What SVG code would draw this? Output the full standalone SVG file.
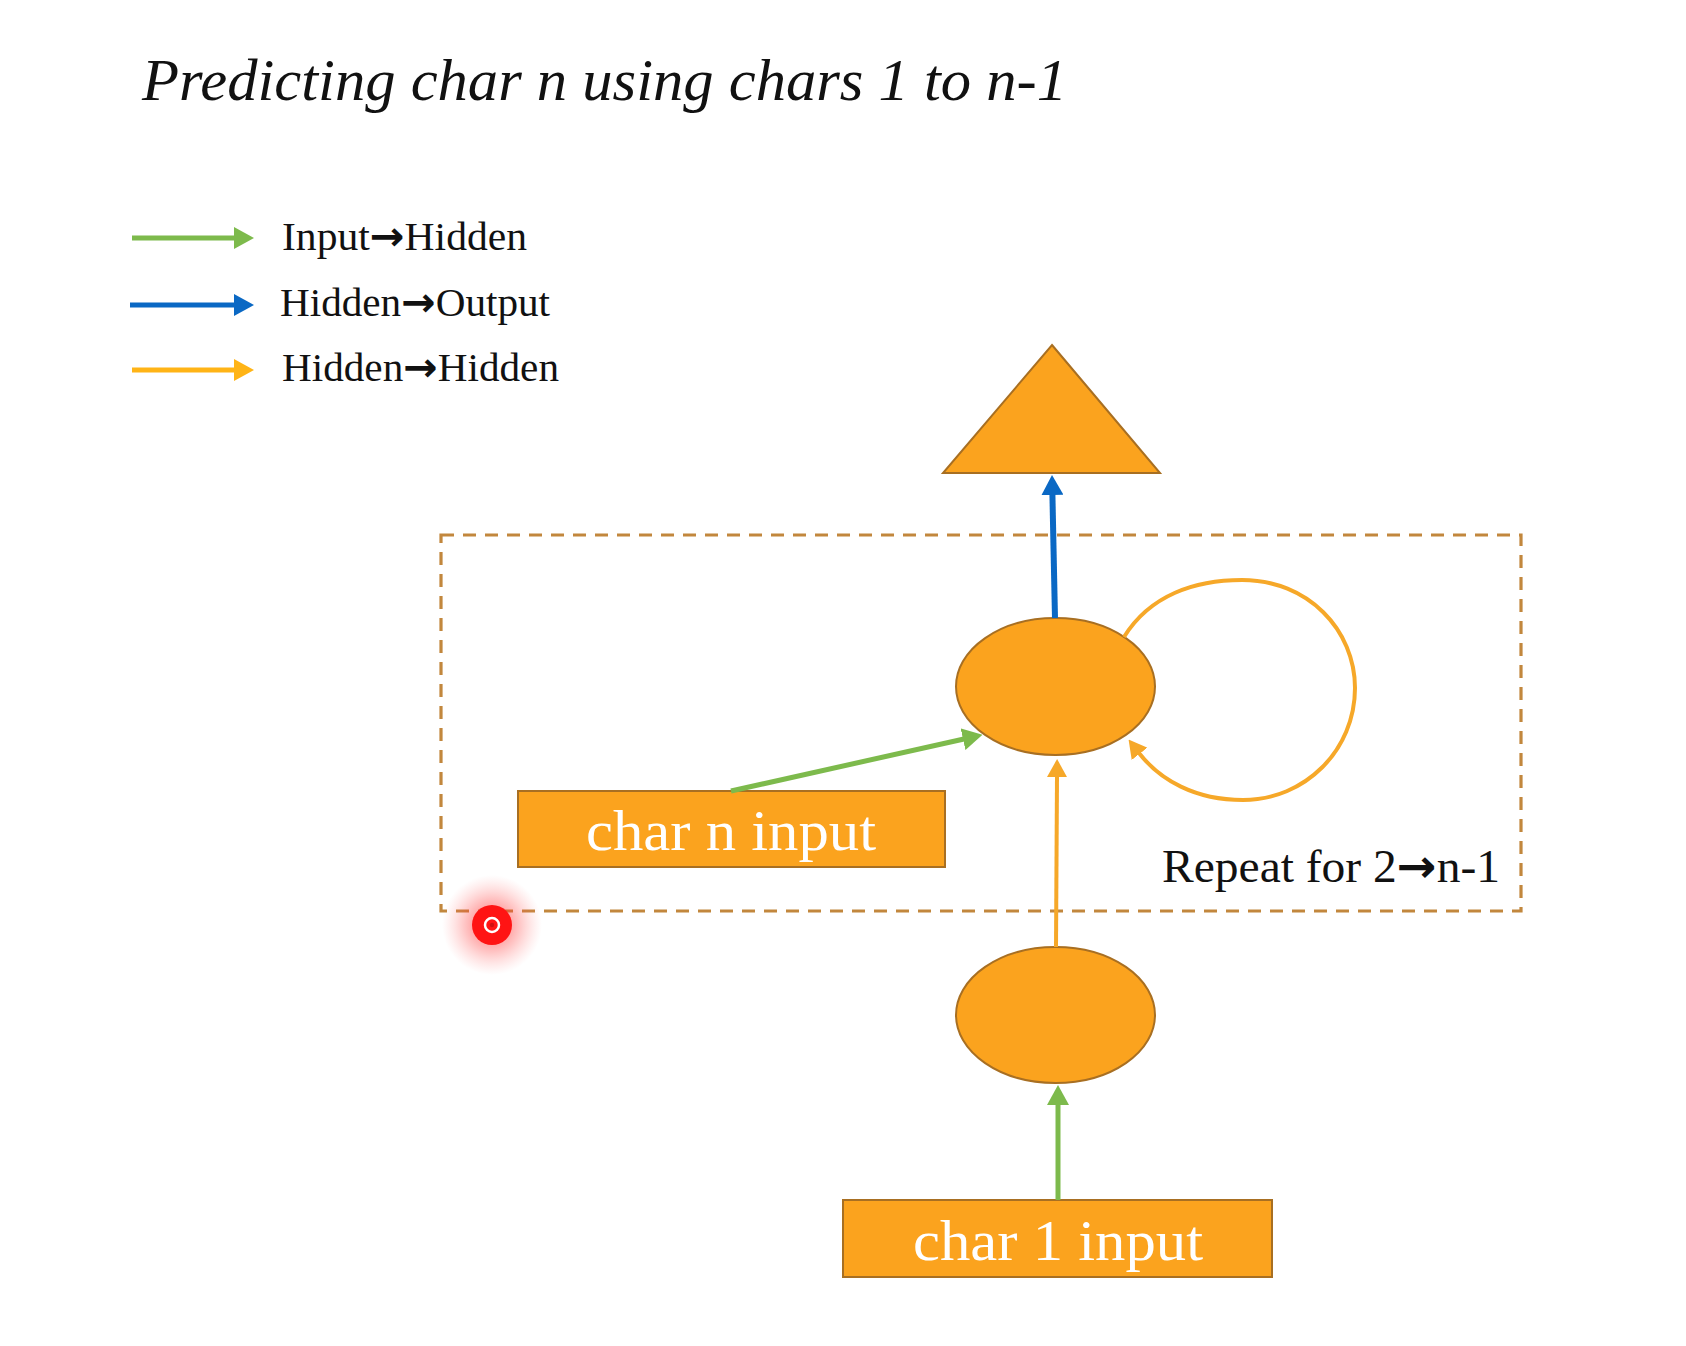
<svg xmlns="http://www.w3.org/2000/svg" width="1686" height="1346" viewBox="0 0 1686 1346">
  <style>
    .serif { font-family: "Liberation Serif", "Times New Roman", serif; }
    .arr { font-family: "DejaVu Sans", "Liberation Sans", sans-serif; font-weight: bold; }
    .legend { font-size: 40px; fill: #111; }
    .node { fill: #FBA31E; stroke: #A86F22; stroke-width: 2; }
    .label { font-size: 58px; fill: #FFFFFF; text-anchor: middle; }
    .green { stroke: #7DBA4C; fill: none; }
    .blue { stroke: #0A68C4; fill: none; }
    .orange { stroke: #F6A829; fill: none; }
    .legorange { stroke: #FFB416; fill: none; }
  </style>
  <defs>
    <marker id="hG" markerUnits="userSpaceOnUse" viewBox="0 0 20 22" markerWidth="20" markerHeight="22" refX="1" refY="11" orient="auto">
      <path d="M0,0 L20,11 L0,22 z" fill="#7DBA4C"/>
    </marker>
    <marker id="hB" markerUnits="userSpaceOnUse" viewBox="0 0 20 22" markerWidth="20" markerHeight="22" refX="1" refY="11" orient="auto">
      <path d="M0,0 L20,11 L0,22 z" fill="#0A68C4"/>
    </marker>
    <marker id="hO" markerUnits="userSpaceOnUse" viewBox="0 0 18 20" markerWidth="18" markerHeight="20" refX="1" refY="10" orient="auto">
      <path d="M0,0 L18,10 L0,20 z" fill="#F6A829"/>
    </marker>
    <marker id="hLO" markerUnits="userSpaceOnUse" viewBox="0 0 20 22" markerWidth="20" markerHeight="22" refX="1" refY="11" orient="auto">
      <path d="M0,0 L20,11 L0,22 z" fill="#FFB416"/>
    </marker>
    <radialGradient id="glow">
      <stop offset="0" stop-color="#FF2020" stop-opacity="0.7"/>
      <stop offset="0.55" stop-color="#FF4040" stop-opacity="0.3"/>
      <stop offset="1" stop-color="#FF8080" stop-opacity="0"/>
    </radialGradient>
  </defs>

  <rect x="0" y="0" width="1686" height="1346" fill="#FFFFFF"/>

  <g id="title">
    <text class="serif" x="142" y="100" font-size="60" font-style="italic" fill="#111" textLength="925" lengthAdjust="spacingAndGlyphs">Predicting char n using chars 1 to n-1</text>
  </g>

  <g id="legend">
    <line class="green" x1="132" y1="238" x2="235" y2="238" stroke-width="5" marker-end="url(#hG)"/>
    <text class="serif legend" x="282" y="250" textLength="245" lengthAdjust="spacingAndGlyphs">Input<tspan class="arr">→</tspan>Hidden</text>
    <line class="blue" x1="130" y1="305" x2="235" y2="305" stroke-width="5" marker-end="url(#hB)"/>
    <text class="serif legend" x="280" y="316" textLength="270" lengthAdjust="spacingAndGlyphs">Hidden<tspan class="arr">→</tspan>Output</text>
    <line class="legorange" x1="132" y1="370" x2="235" y2="370" stroke-width="5" marker-end="url(#hLO)"/>
    <text class="serif legend" x="282" y="381" textLength="277" lengthAdjust="spacingAndGlyphs">Hidden<tspan class="arr">→</tspan>Hidden</text>
  </g>

  <g id="repeat-region">
    <rect x="441" y="535" width="1080" height="376" fill="none" stroke="#C2873D" stroke-width="3.2" stroke-dasharray="13 9"/>
    <text class="serif" x="1162" y="882" font-size="46" fill="#111" textLength="338" lengthAdjust="spacingAndGlyphs">Repeat for 2<tspan class="arr">→</tspan>n-1</text>
  </g>

  <g id="output">
    <polygon class="node" points="1052,345 1160,473 943,473"/>
  </g>

  <g id="hidden-n">
    <ellipse class="node" cx="1055.5" cy="686.5" rx="99.5" ry="68.5"/>
  </g>

  <g id="hidden-1">
    <ellipse class="node" cx="1055.5" cy="1015" rx="99.5" ry="68"/>
  </g>

  <g id="char-n-input">
    <rect class="node" x="518" y="791" width="427" height="76"/>
    <text class="serif label" x="731" y="850" textLength="290" lengthAdjust="spacingAndGlyphs">char n input</text>
  </g>

  <g id="char-1-input">
    <rect class="node" x="843" y="1200" width="429" height="77"/>
    <text class="serif label" x="1058" y="1260" textLength="290" lengthAdjust="spacingAndGlyphs">char 1 input</text>
  </g>

  <g id="connectors">
    <line class="blue" x1="1055" y1="618" x2="1052.4" y2="494" stroke-width="6" marker-end="url(#hB)"/>
    <line class="orange" x1="1056" y1="947" x2="1057" y2="776" stroke-width="4" marker-end="url(#hO)"/>
    <line class="green" x1="1058" y1="1200" x2="1058" y2="1104" stroke-width="5" marker-end="url(#hG)"/>
    <line class="green" x1="731" y1="791" x2="964" y2="739" stroke-width="5" marker-end="url(#hG)"/>
    <path class="orange" d="M1124,637 C1150,595 1195,580 1242,580 C1308,580 1355,630 1355,688 C1355,750 1305,800 1243,800 C1195,800 1160,780 1139,753" stroke-width="4" marker-end="url(#hO)"/>
  </g>

  <g id="cursor">
    <circle cx="492" cy="925" r="50" fill="url(#glow)"/>
    <circle cx="492" cy="925" r="20" fill="#FF1414"/>
    <circle cx="492" cy="925" r="7" fill="none" stroke="#FFFFFF" stroke-width="2.5"/>
    <circle cx="492" cy="925" r="2.2" fill="#D01010"/>
  </g>
</svg>
